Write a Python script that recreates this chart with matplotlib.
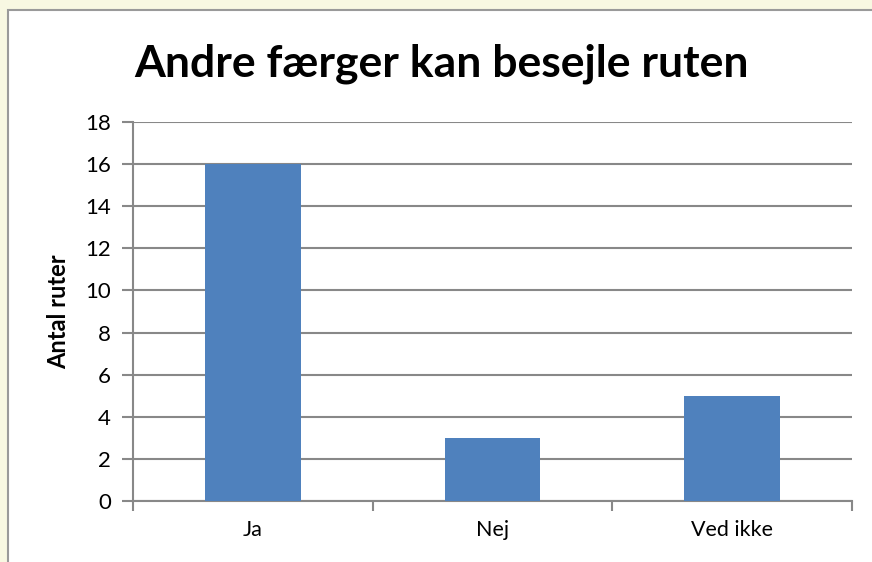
import matplotlib
matplotlib.use("Agg")
import matplotlib.pyplot as plt
from matplotlib.patches import Rectangle

categories = ["Ja", "Nej", "Ved ikke"]
values = [16, 3, 5]
yticks = [0, 2, 4, 6, 8, 10, 12, 14, 16, 18]

plt.rcParams['font.family'] = ['Lato', 'DejaVu Sans']

W, H = 872, 562
fig = plt.figure(figsize=(W / 100, H / 100), dpi=100)
fig.patch.set_facecolor("#F8F8E2")

# white chart panel with gray border (left/top)
panel = Rectangle((8 / W, -0.02), 1.05, 1 - 10 / H + 0.02, transform=fig.transFigure,
                  facecolor="white", edgecolor="#9A9A9A", linewidth=1.5, zorder=-5)
fig.add_artist(panel)

ax = fig.add_axes([133 / W, 1 - 501 / H, (852 - 133) / W, (501 - 122) / H])
ax.set_zorder(1)
ax.set_facecolor("white")

x = list(range(len(categories)))
ax.bar(x, values, width=0.4, color="#4F81BD", zorder=3)

ax.set_xlim(-0.5, len(categories) - 0.5)
ax.set_ylim(0, 18)
ax.set_yticks(yticks)
ax.set_yticklabels([str(v) for v in yticks], fontsize=16)
ax.set_xticks(x)
ax.set_xticklabels(categories, fontsize=15.5)
ax.tick_params(axis="x", length=0, pad=14)
ax.tick_params(axis="y", length=8, width=1.5, color="#888888", pad=8)

# category boundary ticks on x axis
ax.set_xticks([-0.5, 0.5, 1.5, 2.5], minor=True)
ax.tick_params(axis="x", which="minor", length=7, width=1.5, color="#888888")

ax.grid(axis="y", color="#888888", linewidth=1.5, zorder=0)
ax.set_axisbelow(True)
for s in ["top", "right"]:
    ax.spines[s].set_visible(False)
for s in ["left", "bottom"]:
    ax.spines[s].set_color("#888888")
    ax.spines[s].set_linewidth(1.5)

ax.set_ylabel("Antal ruter", fontsize=17, fontweight="bold", labelpad=11)

fig.text(441 / W, 1 - 64 / H, "Andre færger kan besejle ruten", ha="center", va="center",
         fontsize=32, fontweight="bold")

fig.savefig("out.png", dpi=100, facecolor=fig.get_facecolor())
